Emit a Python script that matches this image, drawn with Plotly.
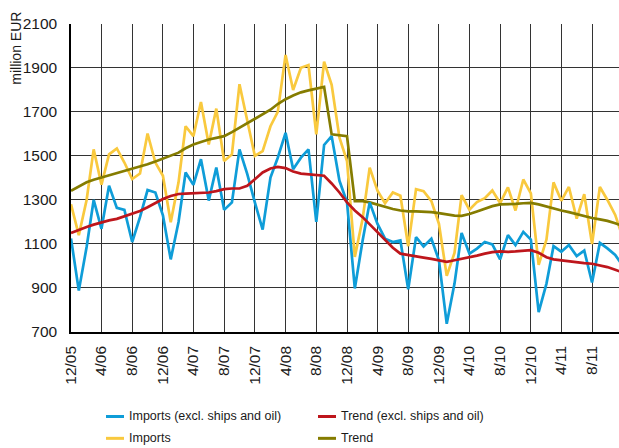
import pandas as pd
import plotly.graph_objects as go

###############################################################################
#                 Datos mensuales (millones de EUR), 12/05 - 12/11            #
###############################################################################

imports_excl = [1125, 888, 1086, 1300, 1169, 1365, 1264, 1255, 1109, 1222,
                1345, 1334, 1230, 1030, 1200, 1425, 1369, 1485, 1297, 1447,
                1255, 1289, 1530, 1417, 1289, 1165, 1402, 1492, 1605, 1440,
                1492, 1530, 1200, 1550, 1590, 1387, 1289, 898, 1116, 1289,
                1191, 1124, 1109, 1116, 894, 1131, 1089, 1124, 1026, 737,
                921, 1150, 1056, 1079, 1109, 1098, 1030, 1140, 1095, 1155,
                1120, 790, 920, 1090, 1065, 1095, 1045, 1070, 925, 1105,
                1080, 1050, 1000]

trend_excl = [1150, 1165, 1177, 1188, 1199, 1207, 1214, 1225, 1237, 1250,
              1267, 1285, 1304, 1318, 1327, 1329, 1330, 1332, 1334, 1340,
              1349, 1352, 1352, 1364, 1394, 1425, 1443, 1450, 1445, 1429,
              1420, 1417, 1414, 1410, 1375, 1334, 1289, 1252, 1222, 1189,
              1150, 1116, 1083, 1056, 1049, 1043, 1038, 1032, 1026, 1019,
              1026, 1032, 1038, 1047, 1056, 1063, 1066, 1064, 1066, 1070,
              1072, 1060, 1040, 1030, 1025, 1020, 1017, 1013, 1010, 1003,
              995, 983, 970]

imports = [1280, 1140, 1300, 1530, 1369, 1507, 1534, 1470, 1395, 1420,
           1602, 1470, 1410, 1199, 1380, 1635, 1590, 1745, 1552, 1715,
           1477, 1507, 1826, 1660, 1500, 1522, 1635, 1700, 1959, 1800,
           1901, 1913, 1598, 1928, 1823, 1583, 1477, 1041, 1214, 1447,
           1342, 1285, 1334, 1319, 1090, 1349, 1340, 1295, 1192, 955,
           1060, 1322, 1256, 1290, 1308, 1343, 1286, 1357, 1252, 1393,
           1330, 1005, 1120, 1380, 1296, 1359, 1215, 1326, 1100, 1359,
           1300, 1232, 1130]

trend = [1342, 1362, 1380, 1392, 1402, 1410, 1420, 1430, 1440, 1450,
         1462, 1475, 1489, 1502, 1515, 1535, 1552, 1563, 1575, 1582,
         1590, 1608, 1628, 1647, 1665, 1688, 1710, 1736, 1758, 1775,
         1789, 1798, 1806, 1814, 1598, 1595, 1590, 1295, 1295, 1289,
         1278, 1268, 1259, 1252, 1248, 1248, 1247, 1245, 1240, 1233,
         1229, 1228, 1236, 1248, 1262, 1272, 1280, 1280, 1282, 1285,
         1287, 1280, 1270, 1260, 1252, 1245, 1236, 1224, 1218, 1212,
         1205, 1194, 1182]

tick_labels = ["12/05", "4/06", "8/06", "12/06", "4/07", "8/07", "12/07",
               "4/08", "8/08", "12/08", "4/09", "8/09", "12/09", "4/10",
               "8/10", "12/10", "4/11", "8/11", "12/11"]

names = ["Imports (excl. ships and oil)", "Trend (excl. ships and oil)",
         "Imports", "Trend"]
colors = ["#0f9dd8", "#be161c", "#f9c93e", "#857c00"]

dates = pd.date_range("2005-12-01", periods=len(imports), freq="MS")

###############################################################################
#                               Figura                                        #
###############################################################################

W, H = 619, 448
# el "papel" empieza en x=11, y=7 (linea gris superior); el area de datos en x=71, y=22
L, R, T, B = 11, 0, 7, 116
pw, ph = W - L - R, H - T - B
plot_left, plot_top = 71, 22

def px(x):
    return (x - L) / pw

def py(y):
    return (H - B - y) / ph

fig = go.Figure()
# orden de dibujo: amarillo, oliva, azul, rojo
for s, c in [(imports, colors[2]), (trend, colors[3]),
             (imports_excl, colors[0]), (trend_excl, colors[1])]:
    fig.add_trace(go.Scatter(x=dates, y=s, mode="lines",
                             line=dict(color=c, width=2.7),
                             showlegend=False, hoverinfo="skip"))

fam = "Liberation Sans, Arial, sans-serif"
font_ticks = dict(family=fam, size=15.5, color="#1a1a1a")
font_leg = dict(family=fam, size=12.5, color="#1a1a1a")

fig.update_layout(
    xaxis=dict(domain=[px(plot_left), 1],
               range=["2005-12-01", "2011-11-16"],
               tickvals=dates[::4], ticktext=tick_labels,
               tickangle=-90, tickfont=font_ticks, ticks="",
               ticklabelstandoff=6,
               showgrid=True, gridcolor="#333333", gridwidth=1.2,
               showline=True, linecolor="#000", linewidth=1.5,
               zeroline=False),
    yaxis=dict(domain=[0, py(plot_top)],
               range=[700, 2100], tick0=700, dtick=200, tickfont=font_ticks,
               ticks="", ticklabelstandoff=9,
               showgrid=True, gridcolor="#333333", gridwidth=1.2,
               showline=True, linecolor="#000", linewidth=1.5,
               zeroline=False),
    # eje auxiliar vacio: solo su linea, la regla gris de arriba
    xaxis2=dict(domain=[0, 1], anchor="free", position=py(7.5),
                overlaying="x", side="top", range=[0, 1],
                showline=True, linecolor="#7a7a7a", linewidth=2,
                showgrid=False, zeroline=False, showticklabels=False,
                ticks=""),
)

shapes = []
annotations = [dict(text="million EUR", xref="paper", yref="paper",
                    x=px(16), y=py(47), textangle=-90, showarrow=False,
                    xanchor="center", yanchor="middle",
                    font=dict(family=fam, size=14, color="#1a1a1a"))]

# leyenda manual en dos columnas
leg_pos = [(106, 417), (318, 417), (106, 439), (318, 439)]
for (lx, ly), n, c in zip(leg_pos, names, colors):
    shapes.append(dict(type="line", xref="paper", yref="paper",
                       x0=px(lx), x1=px(lx + 18), y0=py(ly), y1=py(ly),
                       line=dict(color=c, width=3)))
    annotations.append(dict(text=n, xref="paper", yref="paper",
                            x=px(lx + 21), y=py(ly), showarrow=False,
                            xanchor="left", yanchor="middle", font=font_leg))

fig.update_layout(width=W, height=H,
                  margin=dict(l=L, r=R, t=T, b=B),
                  plot_bgcolor="white", paper_bgcolor="white",
                  shapes=shapes, annotations=annotations)

fig.write_html("out.html", config={"displayModeBar": False},
               post_script="document.body.style.margin='0';")
